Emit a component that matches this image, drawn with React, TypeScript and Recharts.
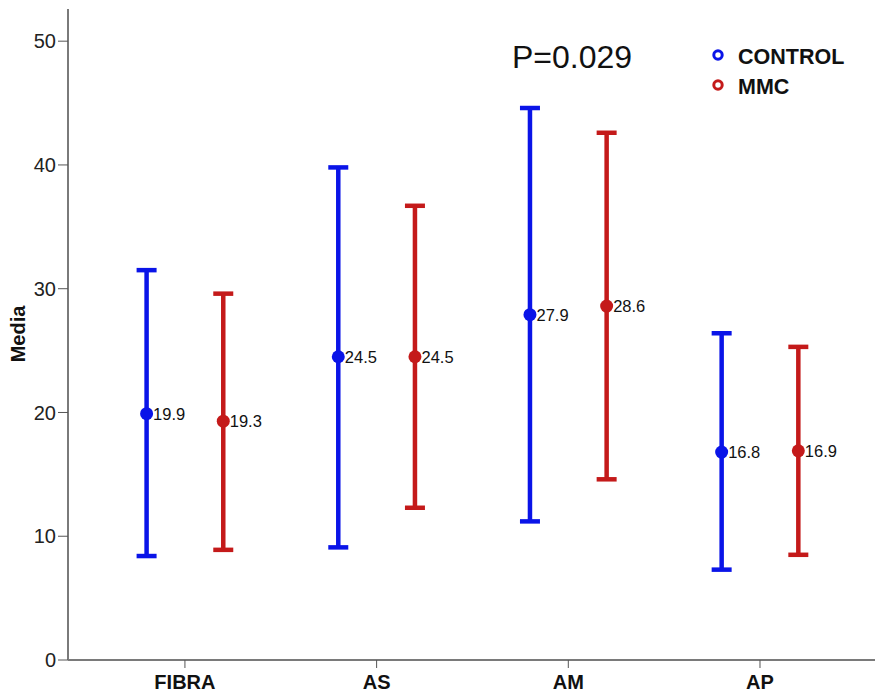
import React from 'react';
import { ComposedChart, Scatter, XAxis, YAxis, ErrorBar, LabelList, Legend } from 'recharts';

const categories = ['FIBRA', 'AS', 'AM', 'AP'];
const controlMean = [19.9, 24.5, 27.9, 16.8];
const controlLow = [8.4, 9.1, 11.2, 7.3];
const controlHigh = [31.5, 39.8, 44.6, 26.4];
const mmcMean = [19.3, 24.5, 28.6, 16.9];
const mmcLow = [8.9, 12.3, 14.6, 8.5];
const mmcHigh = [29.6, 36.7, 42.6, 25.3];
const yTicks = [0, 10, 20, 30, 40, 50];
const pValueText = 'P=0.029';

const BLUE = '#0a14e8';
const RED = '#c41a1a';
const FONT = 'Liberation Sans, Arial, Helvetica, sans-serif';
const DODGE = 0.2;

const buildSeries = (mean: number[], low: number[], high: number[], shift: number) =>
  mean.map((m, i) => ({
    x: i + 1 + shift,
    y: m,
    err: [m - low[i], high[i] - m],
  }));

const controlData = buildSeries(controlMean, controlLow, controlHigh, -DODGE);
const mmcData = buildSeries(mmcMean, mmcLow, mmcHigh, DODGE);
const xTicks = categories.map((_, i) => i + 1);

const dotShape = (color: string) => (p: any) => <circle cx={p.cx} cy={p.cy} r={6.5} fill={color} />;

const renderLegend = (props: any) => {
  const payload = props.payload || [];
  return (
    <div style={{ display: 'flex', flexDirection: 'column' }}>
      {payload.map((e: any) => (
        <div key={e.value} style={{ display: 'flex', alignItems: 'center', height: 30 }}>
          <svg width={14} height={14} style={{ marginTop: -5 }}>
            <circle cx={7} cy={7} r={4.2} fill="#fff" stroke={e.color} strokeWidth={3} />
          </svg>
          <span style={{ marginLeft: 13, fontFamily: FONT, fontWeight: 'bold', fontSize: 21.5, color: '#111' }}>
            {e.value}
          </span>
        </div>
      ))}
    </div>
  );
};

export default function App() {
  return (
    <div style={{ position: 'absolute', left: 0, top: 0, background: '#fff' }}>
      <ComposedChart width={875} height={696} margin={{ top: 9, right: 0, left: 0, bottom: 0 }}>
        <XAxis
          dataKey="x"
          type="number"
          domain={[0.39, 4.6]}
          ticks={xTicks}
          tickFormatter={(v: number) => categories[v - 1]}
          height={36}
          tickSize={8}
          tickMargin={7}
          axisLine={{ stroke: '#7a7a7a', strokeWidth: 2 }}
          tickLine={{ stroke: '#555', strokeWidth: 1 }}
          tick={{ fill: '#111', fontSize: 20, fontWeight: 'bold', fontFamily: FONT }}
          allowDataOverflow
        />
        <XAxis
          xAxisId="top"
          orientation="top"
          type="number"
          domain={[0.39, 4.6]}
          height={0}
          tick={false}
          tickLine={false}
          axisLine={{ stroke: '#7a7a7a', strokeWidth: 2 }}
        />
        <YAxis
          type="number"
          domain={[0, 52.6]}
          ticks={yTicks}
          width={68}
          tickSize={10}
          tickMargin={2}
          axisLine={{ stroke: '#7a7a7a', strokeWidth: 2 }}
          tickLine={{ stroke: '#555', strokeWidth: 1 }}
          tick={{ fill: '#222', fontSize: 20, fontFamily: FONT }}
          allowDataOverflow
        />
        <Legend
          content={renderLegend}
          layout="vertical"
          align="center"
          verticalAlign="middle"
          wrapperStyle={{ top: 42, left: 711, width: 164 }}
        />
        <Scatter
          name="CONTROL"
          data={controlData}
          dataKey="y"
          fill={BLUE}
          shape={dotShape(BLUE)}
          isAnimationActive={false}
        >
          <ErrorBar dataKey="err" direction="y" width={10} strokeWidth={4.5} stroke={BLUE} />
          <LabelList
            dataKey="y"
            position="right"
            offset={2}
            formatter={(v: number) => v.toFixed(1)}
            style={{ fill: '#111', fontSize: 16.5, fontFamily: FONT }}
          />
        </Scatter>
        <Scatter
          name="MMC"
          data={mmcData}
          dataKey="y"
          fill={RED}
          shape={dotShape(RED)}
          isAnimationActive={false}
        >
          <ErrorBar dataKey="err" direction="y" width={10} strokeWidth={4.5} stroke={RED} />
          <LabelList
            dataKey="y"
            position="right"
            offset={2}
            formatter={(v: number) => v.toFixed(1)}
            style={{ fill: '#111', fontSize: 16.5, fontFamily: FONT }}
          />
        </Scatter>
        <text x={512} y={68} fontSize={32} fontFamily={FONT} fill="#111">
          {pValueText}
        </text>
        <text
          x={18}
          y={334}
          transform="rotate(-90 18 334)"
          textAnchor="middle"
          dominantBaseline="central"
          fontSize={20}
          fontWeight="bold"
          fontFamily={FONT}
          fill="#111"
        >
          Media
        </text>
      </ComposedChart>
    </div>
  );
}
